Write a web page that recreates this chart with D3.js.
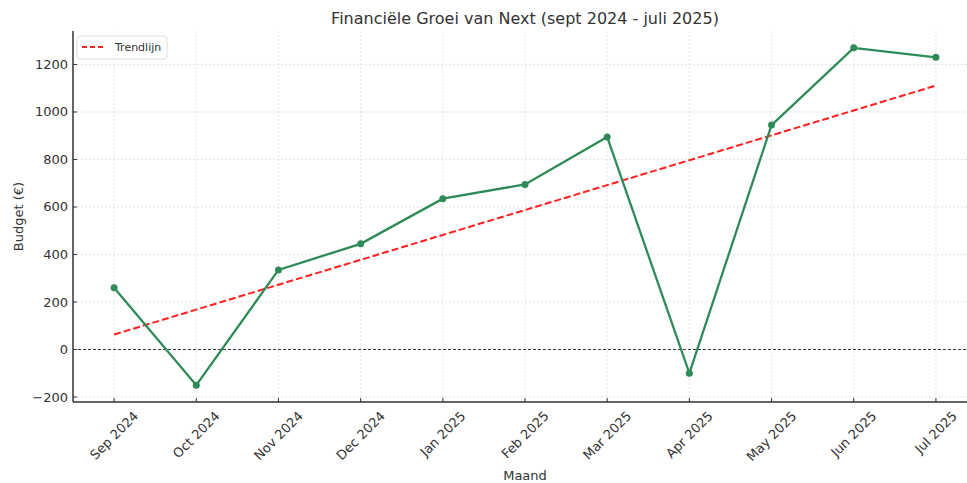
<!DOCTYPE html>
<html>
<head>
<meta charset="utf-8">
<script src="https://cdn.jsdelivr.net/npm/d3@7"></script>
<style>
  body { margin: 0; background: #fff; }
  text { font-family: "DejaVu Sans", sans-serif; fill: #333; }
</style>
</head>
<body>
<svg id="chart" width="967" height="483"></svg>
<script>
const months = ["Sep 2024", "Oct 2024", "Nov 2024", "Dec 2024", "Jan 2025", "Feb 2025",
  "Mar 2025", "Apr 2025", "May 2025", "Jun 2025", "Jul 2025"];
const budget = [260, -150, 335, 445, 635, 695, 895, -100, 945, 1270, 1230];
const yTicks = [-200, 0, 200, 400, 600, 800, 1000, 1200];

const svg = d3.select("#chart");
const plotLeft = 73, plotRight = 977, plotTop = 31, plotBottom = 402;

// linear fit for the trend line
const n = budget.length;
const mx = d3.mean(budget, (d, i) => i);
const my = d3.mean(budget);
const slope = d3.sum(budget, (d, i) => (i - mx) * (d - my)) / d3.sum(budget, (d, i) => (i - mx) ** 2);
const intercept = my - slope * mx;
const trend = budget.map((d, i) => intercept + slope * i);

const x = d3.scaleLinear().domain([-0.5, n - 0.5]).range([plotLeft, plotRight]);
const ymin = d3.min(budget), ymax = d3.max(budget);
const pad = (ymax - ymin) * 0.05;
const y = d3.scaleLinear().domain([ymin - pad, ymax + pad]).range([plotBottom, plotTop]);

// grid
const grid = svg.append("g");
grid.selectAll("line.gx").data(months).enter().append("line")
  .attr("x1", (d, i) => x(i)).attr("x2", (d, i) => x(i))
  .attr("y1", plotTop).attr("y2", plotBottom)
  .attr("stroke", "#ddd").attr("stroke-width", 0.8).attr("stroke-dasharray", "2,2");
grid.selectAll("line.gy").data(yTicks).enter().append("line")
  .attr("x1", plotLeft).attr("x2", plotRight)
  .attr("y1", (d) => y(d)).attr("y2", (d) => y(d))
  .attr("stroke", "#ddd").attr("stroke-width", 0.8).attr("stroke-dasharray", "2,2");

// zero line
svg.append("line")
  .attr("x1", plotLeft).attr("x2", plotRight)
  .attr("y1", y(0)).attr("y2", y(0))
  .attr("stroke", "#222").attr("stroke-width", 0.9).attr("stroke-dasharray", "3,2");

// trend line
svg.append("path")
  .datum(trend)
  .attr("fill", "none")
  .attr("stroke", "#ff2020")
  .attr("stroke-width", 2)
  .attr("stroke-dasharray", "7,3")
  .attr("d", d3.line().x((d, i) => x(i)).y((d) => y(d)));

// data line
svg.append("path")
  .datum(budget)
  .attr("fill", "none")
  .attr("stroke", "#2e8b57")
  .attr("stroke-width", 2.3)
  .attr("d", d3.line().x((d, i) => x(i)).y((d) => y(d)));

svg.selectAll("circle.pt").data(budget).enter().append("circle")
  .attr("cx", (d, i) => x(i)).attr("cy", (d) => y(d))
  .attr("r", 3.5).attr("fill", "#2e8b57");

// spines
svg.append("line").attr("x1", plotLeft).attr("x2", plotLeft).attr("y1", plotTop).attr("y2", plotBottom)
  .attr("stroke", "#333").attr("stroke-width", 1.5);
svg.append("line").attr("x1", plotLeft).attr("x2", plotRight).attr("y1", plotBottom).attr("y2", plotBottom)
  .attr("stroke", "#333").attr("stroke-width", 1.5);

// y ticks
const yAxis = svg.append("g");
yTicks.forEach((t) => {
  yAxis.append("line").attr("x1", plotLeft).attr("x2", plotLeft + 4)
    .attr("y1", y(t)).attr("y2", y(t)).attr("stroke", "#333").attr("stroke-width", 1);
  yAxis.append("text")
    .attr("x", plotLeft - 5).attr("y", y(t))
    .attr("text-anchor", "end").attr("dominant-baseline", "central")
    .attr("font-size", 13)
    .text(String(t).replace("-", "\u2212"));
});

// x ticks
const xAxis = svg.append("g");
months.forEach((m, i) => {
  xAxis.append("line").attr("x1", x(i)).attr("x2", x(i))
    .attr("y1", plotBottom).attr("y2", plotBottom - 4).attr("stroke", "#333").attr("stroke-width", 1);
  const t = xAxis.append("text")
    .attr("text-anchor", "middle").attr("dominant-baseline", "central")
    .attr("font-size", 13)
    .text(m);
  const L = t.node().getComputedTextLength();
  const half = (L + 13) * Math.SQRT1_2 / 2;
  const cy = plotBottom + 7 + half;
  t.attr("transform", `translate(${x(i)},${cy}) rotate(-45)`);
});

// labels
svg.append("text").attr("x", (plotLeft + plotRight) / 2).attr("y", 18)
  .attr("text-anchor", "middle").attr("dominant-baseline", "central")
  .attr("font-size", 16).text("Financiële Groei van Next (sept 2024 - juli 2025)");
svg.append("text").attr("x", (plotLeft + plotRight) / 2).attr("y", 475)
  .attr("text-anchor", "middle").attr("dominant-baseline", "central")
  .attr("font-size", 13).text("Maand");
svg.append("text")
  .attr("transform", `translate(18,${(plotTop + plotBottom) / 2}) rotate(-90)`)
  .attr("text-anchor", "middle").attr("dominant-baseline", "central")
  .attr("font-size", 13).text("Budget (€)");

// legend
const lg = svg.append("g").attr("transform", "translate(77,36)");
lg.append("rect").attr("width", 90).attr("height", 23).attr("rx", 3)
  .attr("fill", "#fff").attr("stroke", "#ddd").attr("stroke-width", 1);
lg.append("line").attr("x1", 5).attr("x2", 28).attr("y1", 11).attr("y2", 11)
  .attr("stroke", "#ff2020").attr("stroke-width", 2).attr("stroke-dasharray", "5,3");
lg.append("text").attr("x", 38).attr("y", 11.5).attr("dominant-baseline", "central")
  .attr("font-size", 11).text("Trendlijn");
</script>
</body>
</html>
